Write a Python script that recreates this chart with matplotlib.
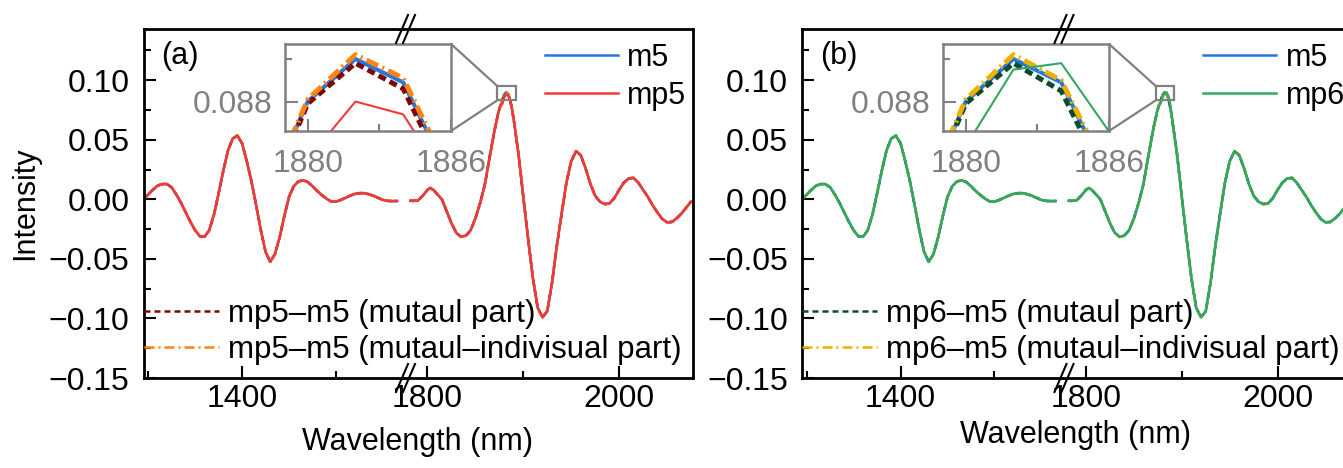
import numpy as np
import matplotlib.pyplot as plt
from matplotlib.lines import Line2D
from matplotlib.patches import Rectangle, ConnectionPatch
from matplotlib.ticker import MultipleLocator, FixedLocator, FuncFormatter

plt.rcParams['font.family'] = ['Liberation Sans', 'DejaVu Sans']
plt.rcParams['font.size'] = 22

W, H = 1343, 468

# spectrum before the axis break (all curves overlap here)
wl_left = [1295, 1300, 1305, 1310, 1315, 1320, 1325, 1330, 1335, 1340, 1345, 1350,
           1355, 1360, 1365, 1370, 1375, 1380, 1385, 1390, 1395, 1400, 1405, 1410,
           1415, 1420, 1425, 1430, 1435, 1440, 1445, 1450, 1455, 1460, 1465, 1470,
           1475, 1480, 1485, 1490, 1495, 1500, 1505, 1510, 1515, 1520, 1525, 1530,
           1535, 1540, 1545, 1550, 1555, 1560, 1565]
m5_left = [0.000, 0.004, 0.008, 0.0115, 0.0128, 0.0128, 0.010, 0.004, -0.003, -0.011,
           -0.019, -0.026, -0.031, -0.0315, -0.026, -0.013, 0.005, 0.024, 0.041, 0.051,
           0.0535, 0.047, 0.032, 0.015, -0.005, -0.026, -0.044, -0.0525, -0.046, -0.032,
           -0.014, 0.002, 0.011, 0.015, 0.016, 0.0145, 0.011, 0.007, 0.0035, 0.0005,
           -0.0018, -0.002, -0.0005, 0.0012, 0.003, 0.0045, 0.0052, 0.0052, 0.0043, 0.003,
           0.0012, -0.0005, -0.0013, -0.0015, -0.0014]

# spectrum after the axis break
wl_right = [1782, 1785, 1790, 1795, 1800, 1803, 1806, 1810, 1815, 1820, 1825, 1830,
            1835, 1840, 1845, 1850, 1855, 1860, 1865, 1870, 1874, 1876, 1878, 1880,
            1882, 1884, 1886, 1888, 1890, 1895, 1900, 1905, 1910, 1915, 1920, 1925,
            1930, 1935, 1940, 1945, 1950, 1955, 1960, 1965, 1970, 1975, 1980, 1985,
            1990, 1995, 2000, 2005, 2010, 2015, 2020, 2025, 2030, 2035, 2040, 2045,
            2050, 2055, 2060, 2065, 2070, 2075]
m5_right = [-0.0012, -0.0013, -0.001, 0.003, 0.008, 0.0095, 0.008, 0.0045, 0.000, -0.010,
            -0.020, -0.028, -0.0315, -0.0305, -0.026, -0.016, -0.003, 0.013, 0.036, 0.058,
            0.073, 0.0785, 0.0828, 0.0880, 0.0900, 0.0889, 0.0843, 0.0770, 0.067, 0.038,
            0.002, -0.033, -0.066, -0.091, -0.099, -0.094, -0.070, -0.039, -0.012, 0.014,
            0.032, 0.0405, 0.037, 0.026, 0.013, 0.003, -0.002, -0.004, -0.0035, 0.001,
            0.008, 0.014, 0.0175, 0.018, 0.014, 0.008, 0.002, -0.005, -0.011, -0.0165,
            -0.0193, -0.019, -0.016, -0.012, -0.007, -0.002]

# values around the main peak
wl_peak = [1878, 1880, 1882, 1884, 1886, 1888]
mp5_peak = [0.0800, 0.0853, 0.0880, 0.0874, 0.0839, 0.0765]
mp5_mut_peak = [0.0826, 0.0879, 0.0898, 0.0886, 0.0840, 0.0768]
mp5_ind_peak = [0.0829, 0.0881, 0.0902, 0.0891, 0.0845, 0.0771]
mp6_peak = [0.0810, 0.0859, 0.0895, 0.0898, 0.0866, 0.0790]
mp6_mut_peak = [0.0826, 0.0879, 0.0898, 0.0885, 0.0840, 0.0768]
mp6_ind_peak = [0.0829, 0.0881, 0.0902, 0.0890, 0.0845, 0.0771]


def splice(peak_vals):
    y = np.array(m5_right, float)
    idx = [wl_right.index(w) for w in wl_peak]
    y[idx] = peak_vals
    return y


def px_rect(x0, x1, yt, yb):
    return [x0 / W, 1 - yb / H, (x1 - x0) / W, (yb - yt) / H]


def minus_fmt(fmt):
    return FuncFormatter(lambda v, p: (fmt % v).replace('-', '\u2212'))


fig = plt.figure(figsize=(W / 100, H / 100), dpi=100)

GRAY = '#808080'
BLUE = '#2277E0'
TICK_FS = 23


def style_axis(ax):
    ax.tick_params(which='both', direction='in', width=1.5, top=False, right=False,
                   labelsize=TICK_FS)
    ax.tick_params(which='major', length=8.5)
    ax.tick_params(which='minor', length=5)
    ax.tick_params(axis='x', pad=4)
    ax.tick_params(axis='y', pad=10)
    for s in ax.spines.values():
        s.set_linewidth(2)


def draw_panel(x0, tag, mp_name, c_mp, c_mut, c_ind, mp_pk, mut_pk, ind_pk,
               ylabel, xlabel_y, ins_x):
    xb = x0 + 261
    axL = fig.add_axes(px_rect(x0, xb, 29, 378))
    axR = fig.add_axes(px_rect(xb, xb + 288, 29, 378), sharey=axL)

    mp_r = splice(mp_pk)
    mut_r = splice(mut_pk)
    ind_r = splice(ind_pk)

    for ax, wl, a, b, c, d in [(axL, wl_left, m5_left, m5_left, m5_left, m5_left),
                               (axR, wl_right, m5_right, mut_r, ind_r, mp_r)]:
        ax.plot(wl, a, color=BLUE, lw=1.8, label='m5')
        ax.plot(wl, b, color=c_mut, lw=1.8, ls=(0, (2.4, 1.6)),
                label=f'{mp_name}\u2013m5 (mutaul part)')
        ax.plot(wl, c, color=c_ind, lw=1.8, ls=(0, (4, 1.6, 0.8, 1.6)),
                label=f'{mp_name}\u2013m5 (mutaul\u2013indivisual part)')
        ax.plot(wl, d, color=c_mp, lw=1.8, label=mp_name)
        style_axis(ax)

    axL.set_xlim(1295, 1573)
    axR.set_xlim(1776, 2076.6)
    axL.set_ylim(-0.15, 0.143)
    for ax in (axL, axR):
        ax.xaxis.set_major_locator(MultipleLocator(200))
        ax.xaxis.set_minor_locator(MultipleLocator(100))
    axL.yaxis.set_major_locator(MultipleLocator(0.05))
    axL.yaxis.set_minor_locator(MultipleLocator(0.025))
    axL.yaxis.set_major_formatter(minus_fmt('%.2f'))
    axL.spines['right'].set_visible(False)
    axR.spines['left'].set_visible(False)
    axR.tick_params(which='both', left=False, labelleft=False)

    if ylabel:
        axL.set_ylabel('Intensity', labelpad=6, fontsize=22)

    fig.text((x0 + 274) / W, 1 - xlabel_y / H, 'Wavelength (nm)',
             ha='center', va='center', fontsize=22)
    fig.text((x0 + 18) / W, 1 - 56 / H, tag, ha='left', va='center', fontsize=22)

    # break marks
    for yc in (29, 378):
        for off in (-3.5, 3.5):
            xc = xb + 1 + off
            fig.add_artist(Line2D([(xc - 6) / W, (xc + 6) / W],
                                  [1 - (yc + 14) / H, 1 - (yc - 14) / H],
                                  color='black', lw=1.5))

    # legends
    h, l = axR.get_legend_handles_labels()
    fig.legend([h[0], h[3]], [l[0], l[3]], loc='upper left',
               bbox_to_anchor=((x0 + 401) / W, 1 - 43 / H),
               frameon=False, borderpad=0, borderaxespad=0, fontsize=22,
               handlelength=2.4, handletextpad=0.3, labelspacing=0.25)
    fig.legend([h[1], h[2]], [l[1], l[2]], loc='upper left',
               bbox_to_anchor=(x0 / W, 1 - 299 / H),
               frameon=False, borderpad=0, borderaxespad=0, fontsize=22.5,
               handlelength=2.4, handletextpad=0.3, labelspacing=0.2)

    # inset
    ins = fig.add_axes(px_rect(ins_x, ins_x + 166, 44, 131))
    ins.plot(wl_right, m5_right, color=BLUE, lw=2.9)
    ins.plot(wl_right, mut_r, color=c_mut, lw=3.6, ls=(0, (1.6, 0.9)))
    ins.plot(wl_right, ind_r, color=c_ind, lw=3.6, ls=(0, (2.6, 0.9, 0.4, 0.9)))
    ins.plot(wl_right, mp_r, color=c_mp, lw=1.5)
    ins.set_xlim(1879.05, 1886)
    ins.set_ylim(0.08662, 0.0907)
    ins.xaxis.set_major_locator(FixedLocator([1880, 1886]))
    ins.xaxis.set_minor_locator(FixedLocator([1883]))
    ins.yaxis.set_major_locator(FixedLocator([0.088]))
    ins.yaxis.set_minor_locator(FixedLocator([0.090]))
    ins.yaxis.set_major_formatter(minus_fmt('%.3f'))
    ins.tick_params(which='both', direction='in', color=GRAY, labelcolor=GRAY,
                    width=1.5, top=False, right=False, labelsize=23)
    ins.tick_params(which='major', length=9)
    ins.tick_params(which='minor', length=5)
    ins.tick_params(axis='x', pad=13)
    ins.tick_params(axis='y', pad=9)
    for s in ins.spines.values():
        s.set_color(GRAY)
        s.set_linewidth(1.8)

    axR.add_patch(Rectangle((1873, 0.0832), 19, 0.0118, fill=False,
                            edgecolor=GRAY, lw=1.6, zorder=6))
    for ya, yb in ((1, 0.095), (0, 0.0832)):
        con = ConnectionPatch(xyA=(1, ya), coordsA=ins.transAxes,
                              xyB=(1873, yb), coordsB=axR.transData,
                              color=GRAY, lw=1.6)
        fig.add_artist(con)


draw_panel(143.5, '(a)', 'mp5', '#F03A3A', '#7A0A0A', '#FF8412',
           mp5_peak, mp5_mut_peak, mp5_ind_peak, True, 442, 285)
draw_panel(802, '(b)', 'mp6', '#30AA5E', '#0E4A2C', '#F0B000',
           mp6_peak, mp6_mut_peak, mp6_ind_peak, False, 435, 943)

fig.savefig('out.png', dpi=100)
